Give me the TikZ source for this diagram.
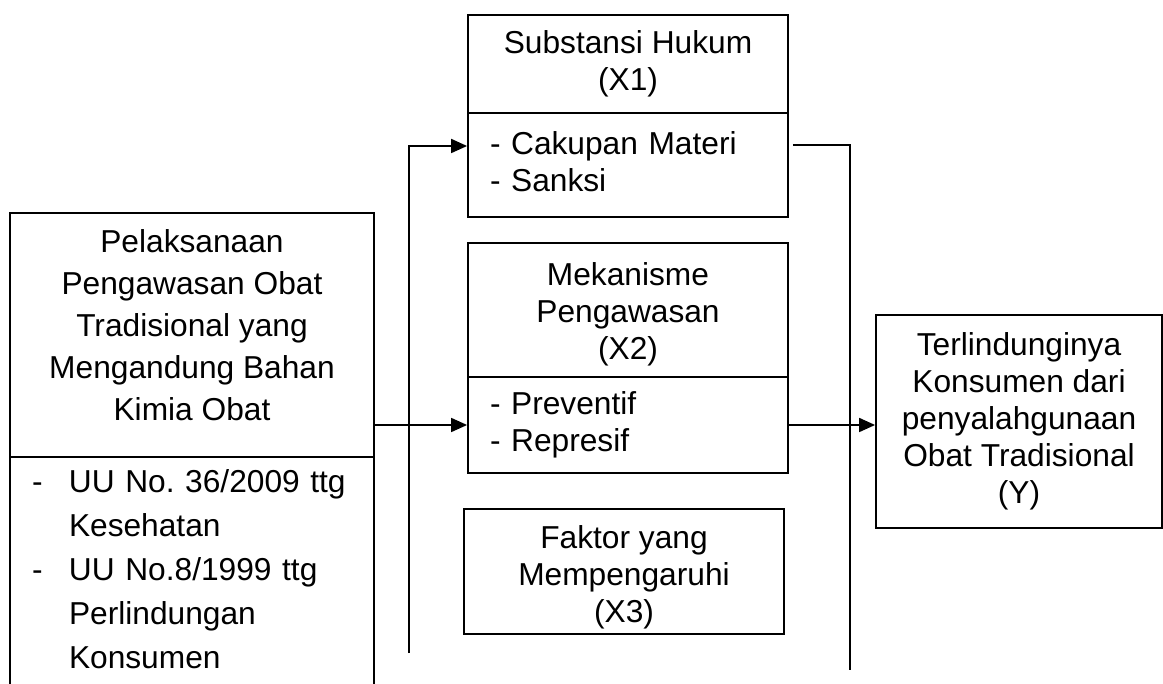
\documentclass[tikz,border=0pt]{standalone}
\usepackage{fontspec}
\setmainfont{Liberation Sans}
\usetikzlibrary{arrows.meta}
\frenchspacing

\begin{document}
\begin{tikzpicture}[x=1pt, y=-1pt, line width=1.8pt,
    box/.style={draw, rectangle, inner sep=0pt, align=center,
        font=\fontsize{31.7}{37}\selectfont},
    listbox/.style={box, align=left, inner xsep=22pt},
    flow/.style={-{Triangle[length=16pt,width=14pt]}}]
    \useasboundingbox (0,0) rectangle (1163,684);
    \clip (0,0) rectangle (1163,684);

    % Left box: pelaksanaan pengawasan
    \node[box, minimum width=364, minimum height=244, font=\fontsize{31.7}{42}\selectfont]
        (lhead) at (192,335) {Pelaksanaan\\Pengawasan Obat\\Tradisional yang\\Mengandung Bahan\\Kimia Obat\rule[-19pt]{0pt}{0pt}};
    \node[listbox, text width=320, minimum height=231, font=\fontsize{31.7}{44}\selectfont]
        (lbody) at (192,572.5) {\makebox[37pt][l]{-}UU No.\ 36/2009 ttg\\
        \hspace*{37pt}Kesehatan\\
        \makebox[37pt][l]{-}UU No.8/1999 ttg\\
        \hspace*{37pt}Perlindungan\\
        \hspace*{37pt}Konsumen\vphantom{g}};

    % Substansi hukum (X1)
    \node[box, minimum width=320, minimum height=98] (x1h) at (628,64) {Substansi Hukum\\(X1)};
    \node[listbox, text width=276, minimum height=104] (x1b) at (628,165) {- Cakupan Materi\\- Sanksi\vphantom{(}};

    % Mekanisme pengawasan (X2)
    \node[box, minimum width=320, minimum height=134] (x2h) at (628,310) {\rule{0pt}{31pt}Mekanisme\\Pengawasan\\(X2)};
    \node[listbox, text width=276, minimum height=96] (x2b) at (628,425) {- Preventif\\- Represif};

    % Faktor yang mempengaruhi (X3)
    \node[box, minimum width=320, minimum height=125] (x3) at (624,571.5) {\rule{0pt}{33.7pt}Faktor yang\\Mempengaruhi\\(X3)};

    % Terlindunginya konsumen (Y)
    \node[box, minimum width=286, minimum height=213] (yres) at (1019,421.5) {Terlindunginya\\Konsumen dari\\penyalahgunaan\\Obat Tradisional\\(Y)};

    % Connectors
    \coordinate (ltop) at (409,146);
    \coordinate (lbot) at (409,653);
    \coordinate (rtop) at (850,145);
    \coordinate (rbot) at (850,670);
    \draw[flow] (lbot) -- (ltop) -- (ltop -| x1b.west);
    \draw[flow] (lhead.east |- x2b.west) -- (x2b.west);
    \draw[shorten <=4pt] (x1b.east |- rtop) -- (rtop) -- (rbot);
    \draw[flow] (x2b.east) -- (x2b.east -| yres.west);
\end{tikzpicture}
\end{document}
